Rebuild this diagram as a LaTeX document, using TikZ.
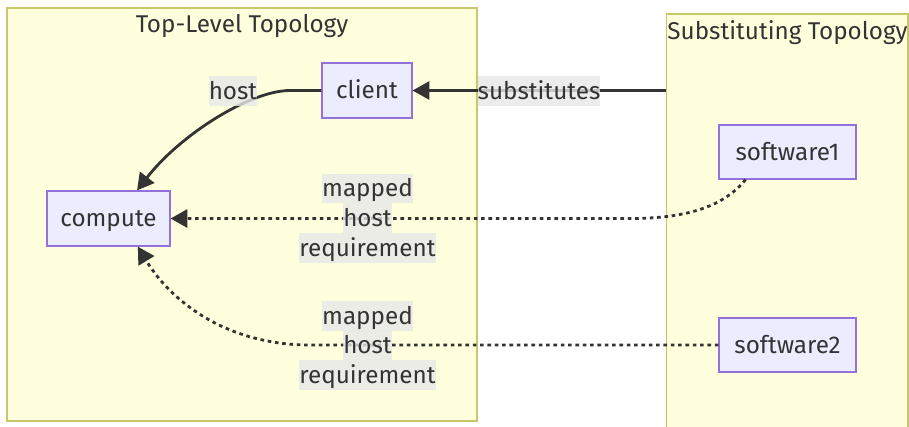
\documentclass[tikz,border=0pt]{standalone}
\usepackage{fontspec}
\setmainfont{Fira Sans}
\usetikzlibrary{arrows.meta}
\definecolor{clfill}{HTML}{FFFFDE}
\definecolor{cldraw}{HTML}{C8C86A}
\definecolor{ndfill}{HTML}{ECECFF}
\definecolor{nddraw}{HTML}{9370DB}
\definecolor{lblgray}{HTML}{E8E8E8}
\definecolor{ink}{HTML}{333333}
\tikzset{
  x=0.75pt, y=-0.75pt,
  txt/.style={font=\fontsize{18.2pt}{20pt}\selectfont, text height=16.2pt, text depth=3.6pt},
  cluster/.style={draw=cldraw, fill=clfill, line width=1.2pt, inner sep=0pt},
  ttl/.style={txt, text=ink, inner sep=0pt},
  box/.style={txt, draw=nddraw, fill=ndfill, line width=0.9pt, inner sep=0pt, text=ink},
  lbl/.style={txt, fill=lblgray, fill opacity=0.8, text opacity=1, text=ink,
    inner xsep=0pt, inner ysep=0pt, minimum height=21.9pt},
  edge/.style={draw=ink, line width=2.1pt, -{Triangle[length=12.5pt,width=13.5pt]}},
  dotline/.style={edge, dash pattern=on 2.7pt off 2.8pt},
}
\begin{document}
\begin{tikzpicture}
\useasboundingbox (0,0) rectangle (909,426);
\clip (0,0) rectangle (909,426);
\fill[white] (0,0) rectangle (909,426);
% clusters
\node[cluster, minimum width=352.5pt, minimum height=309.75pt] (topcl) at (242,214.5) {};
\node[ttl] (toptitle) at (242,24) {Top-Level Topology};
\node[cluster, minimum width=181.1pt, minimum height=322.5pt] (subcl) at (787.25,229) {};
\node[ttl] (subtitle) at (787.5,31) {Substituting Topology};
% nodes
\node[box, minimum width=67.5pt, minimum height=41.25pt] (client) at (367,90.5) {client};
\node[box, minimum width=92.25pt, minimum height=41.25pt] (compute) at (108.5,218.5) {compute};
\node[box, minimum width=102.75pt, minimum height=40.5pt] (sw1) at (787.5,152) {software1};
\node[box, minimum width=102.75pt, minimum height=40.5pt] (sw2) at (787.5,345) {software2};
% helper coordinates
\coordinate (hostend) at ([xshift=21.4pt]compute.north);
\coordinate (sw2end) at ([xshift=22pt]compute.south);
\coordinate (sw1start) at ([xshift=-31.5pt]sw1.south);
% edges
\draw[edge] (subcl.west |- client.east) -- (client.east);
\draw[edge] (client.west) -- (290,90.5) .. controls (250,90.5) and (180,135) .. (hostend);
\draw[dotline] (sw1start) .. controls (725,205) and (690,218.5) .. (630,218.5) -- (compute.east);
\draw[dotline] (sw2.west) -- (310,345) .. controls (225,345) and (170,300) .. (sw2end);
% labels
\node[lbl] (lsub) at (539,91) {substitutes};
\node[lbl] (lhost) at (233,91) {host};
\node[lbl] (m1a) at (367.5,188.5) {mapped};
\node[lbl] (m1b) at (367.5,218) {host};
\node[lbl] (m1c) at (367.5,248) {requirement};
\node[lbl] (m2a) at (367.5,316) {mapped};
\node[lbl] (m2b) at (367.5,345) {host};
\node[lbl] (m2c) at (367.5,375) {requirement};
\end{tikzpicture}
\end{document}
